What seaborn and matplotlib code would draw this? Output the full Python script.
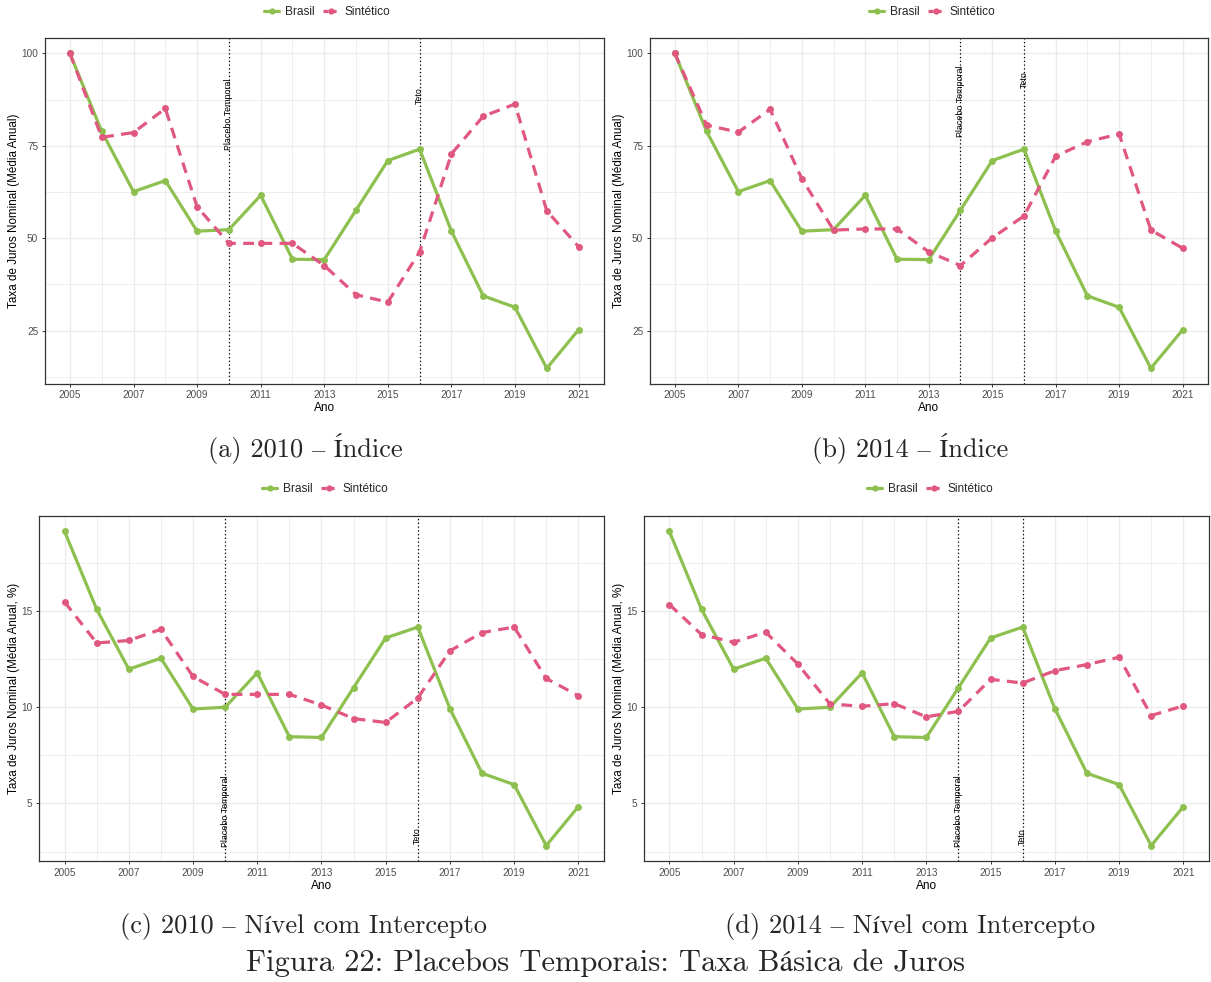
import numpy as np
import pandas as pd
import matplotlib
matplotlib.use("Agg")
import matplotlib.pyplot as plt
from matplotlib.lines import Line2D
from matplotlib.ticker import MultipleLocator
import seaborn as sns

# ---- data -----------------------------------------------------------------
anos = list(range(2005, 2022))

brasil_indice = [100.0, 78.9, 62.6, 65.6, 51.9, 52.3, 61.6, 44.3, 44.2, 57.6,
                 71.0, 74.1, 51.9, 34.4, 31.3, 14.8, 25.2]
sint_indice_2010 = [100.0, 77.3, 78.6, 85.1, 58.5, 48.6, 48.6, 48.6, 42.6, 34.7,
                    32.7, 46.3, 72.8, 83.0, 86.3, 57.4, 47.7]
sint_indice_2014 = [100.0, 80.6, 78.7, 84.9, 66.1, 52.2, 52.5, 52.5, 46.3, 42.6,
                    50.1, 56.0, 72.2, 76.1, 78.2, 52.2, 47.3]

brasil_nivel = [19.14, 15.09, 11.98, 12.55, 9.91, 10.0, 11.79, 8.47, 8.43, 11.02,
                13.6, 14.17, 9.93, 6.57, 5.98, 2.81, 4.83]
sint_nivel_2010 = [15.47, 13.34, 13.47, 14.05, 11.6, 10.67, 10.67, 10.67, 10.12, 9.41,
                   9.21, 10.48, 12.93, 13.88, 14.17, 11.5, 10.6]
sint_nivel_2014 = [15.34, 13.78, 13.38, 13.9, 12.24, 10.17, 10.05, 10.19, 9.5, 9.79,
                   11.45, 11.26, 11.9, 12.22, 12.6, 9.57, 10.07]

series_names = ["Brasil", "Sintético"]
x_ticks = [2005, 2007, 2009, 2011, 2013, 2015, 2017, 2019, 2021]
ano_teto = 2016

captions = ["(a) 2010 – Índice", "(b) 2014 – Índice",
            "(c) 2010 – Nível com Intercepto", "(d) 2014 – Nível com Intercepto"]
fig_title = "Figura 22: Placebos Temporais: Taxa Básica de Juros"
ylab_indice = "Taxa de Juros Nominal (Média Anual)"
ylab_nivel = "Taxa de Juros Nominal (Média Anual, %)"

# ---- style ----------------------------------------------------------------
sns.set_theme(style="white")
plt.rcParams["font.family"] = ["Liberation Sans", "DejaVu Sans"]

GREEN = "#8DC04F"
PINK = "#E0577F"
palette = {"Brasil": GREEN, "Sintético": PINK}
GRID = "#EBEBEB"
DARK = "#333333"
TICKTXT = "#4D4D4D"
SERIF = ["cmr10", "STIXGeneral"]

W, H = 1211, 982
fig = plt.figure(figsize=(W / 100, H / 100), dpi=100)


def box(l, r, t, b):
    return [l / W, 1 - b / H, (r - l) / W, (b - t) / H]


panels = [
    dict(rect=box(44.5, 604, 37.7, 384), br=brasil_indice, sy=sint_indice_2010,
         placebo=2010, ylab=ylab_indice, ystep=25, lab_y=(83.5, 88.6),
         leg=(327, 12), cap=(305, 449)),
    dict(rect=box(649.5, 1208, 37.7, 384), br=brasil_indice, sy=sint_indice_2014,
         placebo=2014, ylab=ylab_indice, ystep=25, lab_y=(87.1, 92.9),
         leg=(932, 12), cap=(910, 449)),
    dict(rect=box(38.9, 604, 515.7, 861.3), br=brasil_nivel, sy=sint_nivel_2010,
         placebo=2010, ylab=ylab_nivel, ystep=5, lab_y=(4.58, 3.33),
         leg=(325, 489), cap=(304, 926)),
    dict(rect=box(643.7, 1209, 515.7, 861.3), br=brasil_nivel, sy=sint_nivel_2014,
         placebo=2014, ylab=ylab_nivel, ystep=5, lab_y=(4.59, 3.29),
         leg=(930, 489), cap=(910, 926)),
]

LW = 2.3
MS = 5

for p, cap in zip(panels, captions):
    ax = fig.add_axes(p["rect"])
    df = pd.DataFrame({
        "Ano": anos * 2,
        "valor": list(p["br"]) + list(p["sy"]),
        "serie": ["Brasil"] * len(anos) + ["Sintético"] * len(anos),
    })
    sns.lineplot(data=df, x="Ano", y="valor", hue="serie", style="serie",
                 palette=palette, hue_order=series_names, style_order=series_names,
                 dashes={"Brasil": "", "Sintético": (3.4, 2.3)},
                 markers={"Brasil": "o", "Sintético": "o"},
                 markersize=MS, markeredgewidth=0, linewidth=LW,
                 legend=False, ax=ax, zorder=3)

    # ggplot-like expanded limits
    allv = np.array(list(p["br"]) + list(p["sy"]))
    lo, hi = allv.min(), allv.max()
    pad = 0.05 * (hi - lo)
    ax.set_ylim(lo - pad, hi + pad)
    ax.set_xlim(2005 - 0.8, 2021 + 0.8)

    ax.set_xticks(x_ticks)
    ax.xaxis.set_minor_locator(MultipleLocator(1))
    ax.yaxis.set_major_locator(MultipleLocator(p["ystep"]))
    ax.yaxis.set_minor_locator(MultipleLocator(p["ystep"] / 2))
    ax.grid(which="major", color=GRID, linewidth=1.0, zorder=0)
    ax.grid(which="minor", color=GRID, linewidth=0.6, zorder=0)
    ax.set_axisbelow(True)
    ax.tick_params(axis="both", which="major", length=2.5, width=0.7,
                   color=DARK, labelsize=7.2, labelcolor=TICKTXT, pad=2,
                   bottom=True, left=True)
    ax.tick_params(axis="both", which="minor", length=0)
    for s in ax.spines.values():
        s.set_color(DARK)
        s.set_linewidth(0.9)
    ax.set_xlabel("Ano", fontsize=8.6, labelpad=1.5, color="black")
    ax.set_ylabel(p["ylab"], fontsize=8.4, labelpad=1, color="black")

    # event lines and their labels
    for xv, txt, yv in zip([p["placebo"], ano_teto], ["Placebo Temporal", "Teto"],
                           p["lab_y"]):
        ax.axvline(xv, color="black", linestyle=(0, (1, 2)), linewidth=0.9, zorder=2)
        ax.text(xv, yv, txt, rotation=90, ha="center", va="center",
                fontsize=6.4, color="black", zorder=4)

    # legend above the panel
    handles = [Line2D([], [], color=GREEN, lw=LW, marker="o", ms=MS - 0.5, mew=0),
               Line2D([], [], color=PINK, lw=LW, marker="o", ms=MS - 0.5, mew=0,
                      dashes=(1.6, 0.9))]
    lx, ly = p["leg"]
    fig.legend(handles, series_names, loc="center", bbox_to_anchor=(lx / W, 1 - ly / H),
               ncol=2, frameon=False, fontsize=8.6, handlelength=1.3,
               handletextpad=0.45, columnspacing=0.75, borderpad=0)

    cx, cy = p["cap"]
    fig.text(cx / W, 1 - cy / H, cap, ha="center", va="center", fontsize=19,
             family=SERIF)

fig.text(606 / W, 1 - 963 / H, fig_title, ha="center", va="center", fontsize=22,
         family=SERIF)

fig.savefig("out.png", dpi=100)
